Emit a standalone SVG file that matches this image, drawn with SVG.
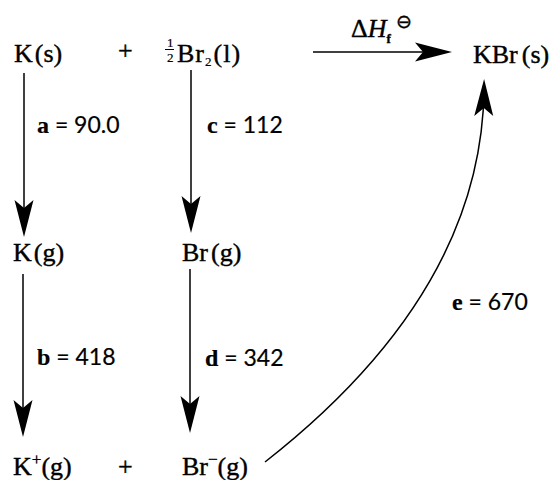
<svg xmlns="http://www.w3.org/2000/svg" width="555" height="480" viewBox="0 0 555 480">
<style>
.t{font-family:"Liberation Serif","DejaVu Serif",serif;font-size:26px;fill:#000;stroke:#000;stroke-width:0.4}
.s{font-family:"Liberation Serif","DejaVu Serif",serif;font-size:13px;fill:#000;stroke:#000;stroke-width:0.2}
.l{font-family:Lato,"Liberation Sans",sans-serif;font-size:23px;fill:#000;stroke:#000;stroke-width:0.2}
.b{font-family:"Liberation Serif","DejaVu Serif",serif;font-weight:bold;font-size:24px}
.c{fill:none;stroke:#000;stroke-width:1.5}
</style>
<defs>
<marker id="ah" markerUnits="userSpaceOnUse" viewBox="-30 -10 42 20" refX="0" refY="0" markerWidth="42" markerHeight="20" orient="auto" overflow="visible">
<path d="M10,0 L-27,-9.5 L-19,0 L-27,9.5 Z" fill="#000"/>
</marker>
</defs>
<rect width="555" height="480" fill="#fff"/>
<g id="connectors">
<line class="c" x1="24" y1="73" x2="24" y2="227" marker-end="url(#ah)"/>
<line class="c" x1="191" y1="70" x2="191" y2="223" marker-end="url(#ah)"/>
<line class="c" x1="23" y1="274" x2="23" y2="427" marker-end="url(#ah)"/>
<line class="c" x1="190" y1="269" x2="190" y2="423" marker-end="url(#ah)"/>
<line class="c" x1="313" y1="52" x2="442" y2="52" marker-end="url(#ah)"/>
<path class="c" d="M265,462 Q482,292 484,89" marker-end="url(#ah)"/>
</g>
<g id="KsNode"><text class="t" x="14" y="62">K<tspan dx="2">(s)</tspan></text></g>
<g id="plus1"><text class="t" x="118" y="59">+</text></g>
<g id="Br2Node">
<text class="s" x="167" y="47">1</text>
<line x1="165" y1="49.5" x2="174" y2="49.5" stroke="#000" stroke-width="1"/>
<text class="s" x="167" y="62">2</text>
<text class="t" x="177" y="62" letter-spacing="1">Br<tspan class="s" dy="4">2</tspan><tspan dy="-4" dx="1">(l)</tspan></text>
</g>
<g id="dHLabel">
<text class="t" x="351" y="37">Δ<tspan font-style="italic">H</tspan><tspan font-size="13" font-weight="bold" dy="6">f</tspan></text>
<text font-family="DejaVu Sans,sans-serif" font-size="19" x="396" y="28" fill="#000" stroke="#000" stroke-width="0.4">⊖</text>
</g>
<g id="KBrNode"><text class="t" x="473" y="63">KBr<tspan dx="4">(s)</tspan></text></g>
<g id="KgNode"><text class="t" x="13" y="261">K<tspan dx="2">(g)</tspan></text></g>
<g id="BrgNode"><text class="t" x="182" y="261">Br<tspan dx="3">(g)</tspan></text></g>
<g id="KplusNode"><text class="t" x="13" y="475">K<tspan font-size="17" dy="-10">+</tspan><tspan dy="10">(g)</tspan></text></g>
<g id="plus2"><text class="t" x="118" y="475">+</text></g>
<g id="BrminusNode"><text class="t" x="182" y="475">Br<tspan font-size="17" dy="-10">−</tspan><tspan dy="10">(g)</tspan></text></g>
<g id="labels">
<text class="l" x="37" y="133"><tspan class="b">a</tspan> = 90.0</text>
<text class="l" x="207" y="133"><tspan class="b">c</tspan> = 112</text>
<text class="l" x="37" y="365"><tspan class="b">b</tspan> = 418</text>
<text class="l" x="205" y="366"><tspan class="b">d</tspan> = 342</text>
<text class="l" x="452" y="310"><tspan class="b">e</tspan> = 670</text>
</g>
</svg>
